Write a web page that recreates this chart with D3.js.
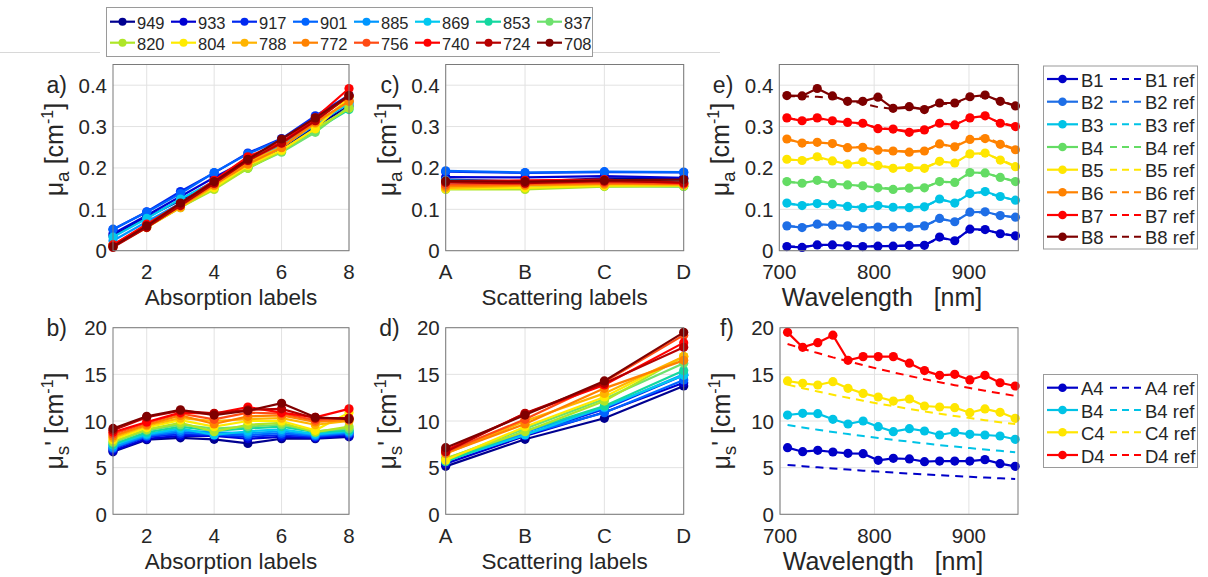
<!DOCTYPE html>
<html>
<head>
<meta charset="utf-8">
<script src="https://cdn.jsdelivr.net/npm/d3@7"></script>
<style>
  body { margin: 0; background: #fff; }
  text { font-family: "Liberation Sans", Arial, sans-serif; fill: #262626; }
</style>
</head>
<body>
<svg id="fig" width="1208" height="577"></svg>
<script>
// wavelengths (nm), plot order follows the legend (949 first, 708 last)
const wavelengths = [708, 724, 740, 756, 772, 788, 804, 820, 837, 853, 869, 885, 901, 917, 933, 949]
const wlColors = ['#800000', '#b80000', '#ff0000', '#ff4b14', '#ff8200', '#ffb400', '#ffeb00', '#aee628',
  '#6ee16e', '#14d7a0', '#00c8f0', '#0096ff', '#0064ff', '#0028f0', '#0000d2', '#000090']

const absLabels = [1, 2, 3, 4, 5, 6, 7, 8]
const scatLabels = ['A', 'B', 'C', 'D']

// e) mu_a of the B phantoms vs wavelength
const muaB1 = [0.010, 0.008, 0.014, 0.014, 0.012, 0.010, 0.011, 0.011, 0.013, 0.013, 0.033, 0.024, 0.052, 0.051, 0.041, 0.036]
const muaB2 = [0.060, 0.056, 0.064, 0.062, 0.060, 0.056, 0.057, 0.057, 0.057, 0.060, 0.078, 0.070, 0.093, 0.094, 0.085, 0.081]
const muaB3 = [0.115, 0.109, 0.114, 0.112, 0.107, 0.104, 0.109, 0.105, 0.104, 0.106, 0.125, 0.115, 0.138, 0.143, 0.131, 0.122]
const muaB4 = [0.167, 0.163, 0.170, 0.162, 0.159, 0.157, 0.152, 0.148, 0.151, 0.152, 0.167, 0.165, 0.189, 0.188, 0.177, 0.167]
const muaB5 = [0.221, 0.218, 0.227, 0.217, 0.209, 0.215, 0.206, 0.199, 0.201, 0.199, 0.216, 0.212, 0.234, 0.236, 0.219, 0.203]
const muaB6 = [0.270, 0.260, 0.262, 0.259, 0.249, 0.250, 0.243, 0.241, 0.238, 0.241, 0.258, 0.251, 0.269, 0.271, 0.257, 0.244]
const muaB7 = [0.321, 0.314, 0.321, 0.314, 0.310, 0.308, 0.295, 0.294, 0.286, 0.292, 0.308, 0.304, 0.321, 0.326, 0.308, 0.300]
const muaB8 = [0.375, 0.374, 0.392, 0.374, 0.361, 0.361, 0.371, 0.344, 0.348, 0.341, 0.357, 0.357, 0.372, 0.376, 0.361, 0.350]

const muaB1Ref = [0.010, 0.010, 0.012, 0.013, 0.012, 0.011, 0.011, 0.012, 0.012, 0.014, 0.030, 0.026, 0.050, 0.050, 0.042, 0.036]
const muaB2Ref = [0.059, 0.058, 0.062, 0.061, 0.059, 0.057, 0.057, 0.057, 0.058, 0.060, 0.076, 0.071, 0.092, 0.093, 0.085, 0.080]
const muaB3Ref = [0.113, 0.111, 0.114, 0.112, 0.108, 0.106, 0.107, 0.105, 0.105, 0.107, 0.123, 0.117, 0.139, 0.141, 0.130, 0.122]
const muaB4Ref = [0.166, 0.164, 0.168, 0.163, 0.159, 0.156, 0.153, 0.150, 0.151, 0.153, 0.167, 0.164, 0.187, 0.188, 0.177, 0.168]
const muaB5Ref = [0.220, 0.219, 0.222, 0.219, 0.212, 0.212, 0.206, 0.201, 0.201, 0.201, 0.215, 0.213, 0.232, 0.235, 0.220, 0.205]
const muaB6Ref = [0.268, 0.263, 0.262, 0.258, 0.251, 0.250, 0.244, 0.241, 0.240, 0.242, 0.256, 0.253, 0.270, 0.275, 0.259, 0.246]
const muaB7Ref = [0.320, 0.316, 0.318, 0.315, 0.310, 0.306, 0.297, 0.293, 0.289, 0.293, 0.306, 0.305, 0.320, 0.325, 0.309, 0.301]
const muaB8Ref = [0.373, 0.373, 0.372, 0.369, 0.362, 0.356, 0.347, 0.343, 0.345, 0.343, 0.354, 0.356, 0.369, 0.374, 0.362, 0.351]

// f) mu_s' of the x4 phantoms vs wavelength
const musA4 = [7.14, 6.71, 6.86, 6.68, 6.54, 6.50, 5.79, 6.00, 5.93, 5.64, 5.71, 5.71, 5.71, 5.86, 5.43, 5.14]
const musB4 = [10.64, 10.82, 10.79, 10.18, 9.68, 10.0, 9.39, 8.86, 9.18, 8.93, 8.50, 8.79, 8.57, 8.50, 8.39, 8.04]
const musC4 = [14.29, 14.04, 13.86, 14.21, 13.50, 12.96, 12.57, 12.14, 12.36, 11.61, 11.50, 11.43, 10.89, 11.29, 10.93, 10.29]
const musD4 = [19.5, 17.9, 18.4, 19.2, 16.5, 16.9, 16.9, 16.9, 16.2, 15.4, 14.9, 15.0, 14.4, 14.9, 14.1, 13.75]

const musA4Ref = [5.29, 5.16, 5.03, 4.91, 4.79, 4.68, 4.58, 4.47, 4.37, 4.28, 4.19, 4.10, 4.02, 3.94, 3.86, 3.79]
const musB4Ref = [9.57, 9.31, 9.06, 8.82, 8.60, 8.38, 8.17, 7.98, 7.78, 7.60, 7.42, 7.26, 7.10, 6.95, 6.80, 6.64]
const musC4Ref = [13.9, 13.52, 13.16, 12.81, 12.49, 12.17, 11.87, 11.59, 11.29, 11.03, 10.78, 10.54, 10.31, 10.09, 9.87, 9.67]
const musD4Ref = [18.25, 17.75, 17.28, 16.82, 16.40, 15.98, 15.59, 15.21, 14.83, 14.48, 14.16, 13.84, 13.54, 13.25, 12.96, 12.69]

// b) mu_s' per absorption label (one value per wavelength)
const musAbs1 = [9.2, 9.0, 8.8, 8.6, 8.4, 8.2, 8.0, 7.8, 7.7, 7.5, 7.4, 7.2, 7.1, 7.0, 6.8, 6.7]
const musAbs2 = [10.5, 10.4, 9.9, 9.8, 9.6, 9.5, 9.3, 9.1, 9.0, 8.8, 8.6, 8.5, 8.4, 8.3, 8.1, 8.0]
const musAbs3 = [11.2, 11.1, 10.9, 10.8, 10.6, 10.3, 10.1, 9.8, 9.6, 9.4, 9.2, 9.0, 8.8, 8.6, 8.4, 8.2]
const musAbs4 = musB4
const musAbs5 = [11.1, 11.2, 11.5, 10.9, 10.5, 10.2, 10.0, 9.6, 9.4, 9.2, 8.9, 8.7, 8.5, 8.3, 8.1, 7.6]
const musAbs6 = [11.9, 11.3, 10.9, 10.8, 10.6, 10.3, 10.0, 9.8, 9.6, 9.4, 9.1, 8.9, 8.7, 8.5, 8.3, 8.1]
const musAbs7 = [10.4, 10.3, 10.4, 10.1, 9.9, 9.6, 9.0, 8.8, 8.9, 8.8, 8.6, 8.5, 8.4, 8.3, 8.2, 8.1]
const musAbs8 = [10.2, 10.3, 11.3, 10.3, 10.1, 10.0, 10.9, 9.4, 9.2, 9.0, 8.9, 8.8, 8.7, 8.6, 8.4, 8.3]

// c) mu_a per scattering label (one value per wavelength)
const muaScatA = [0.168, 0.165, 0.168, 0.160, 0.156, 0.152, 0.150, 0.148, 0.152, 0.155, 0.170, 0.168, 0.193, 0.191, 0.178, 0.172]
const muaScatB = muaB4
const muaScatC = [0.170, 0.168, 0.172, 0.165, 0.162, 0.160, 0.157, 0.155, 0.156, 0.157, 0.170, 0.168, 0.191, 0.190, 0.180, 0.175]
const muaScatD = [0.172, 0.165, 0.163, 0.162, 0.160, 0.160, 0.158, 0.156, 0.155, 0.156, 0.168, 0.166, 0.190, 0.189, 0.176, 0.175]

const bNames = ['B1', 'B2', 'B3', 'B4', 'B5', 'B6', 'B7', 'B8']
const bColors = ['#0000c8', '#1e6ee6', '#00c3e6', '#64dc64', '#ffe600', '#ff8200', '#ff0000', '#7d0000']
const bSeries = [muaB1, muaB2, muaB3, muaB4, muaB5, muaB6, muaB7, muaB8]
const bRefs = [muaB1Ref, muaB2Ref, muaB3Ref, muaB4Ref, muaB5Ref, muaB6Ref, muaB7Ref, muaB8Ref]

const fNames = ['A4', 'B4', 'C4', 'D4']
const fColors = ['#0000c8', '#00c3e6', '#ffe600', '#ff0000']
const fSeries = [musA4, musB4, musC4, musD4]
const fRefs = [musA4Ref, musB4Ref, musC4Ref, musD4Ref]

const absMus = [musAbs1, musAbs2, musAbs3, musAbs4, musAbs5, musAbs6, musAbs7, musAbs8]
const scatMua = [muaScatA, muaScatB, muaScatC, muaScatD]

const svg = d3.select('#fig')
const gridColor = '#e2e2e2'
const boxColor = '#7a7a7a'

// faint page rules left over from the figure crop
svg.append('line').attr('x1', 0).attr('x2', 100).attr('y1', 52.5).attr('y2', 52.5).attr('stroke', '#d8d8d8')
svg.append('line').attr('x1', 593).attr('x2', 720).attr('y1', 52.5).attr('y2', 52.5).attr('stroke', '#d8d8d8')

function yLabel (g, x, y, sub, prime) {
  const t = g.append('text')
    .attr('transform', `translate(${x},${y}) rotate(-90)`)
    .attr('text-anchor', 'middle')
    .attr('font-size', 25)
  t.append('tspan').text('\u03bc')
  t.append('tspan').attr('font-size', 19).attr('dy', 6).text(sub)
  if (prime) {
    t.append('tspan').attr('dy', -6).text("'")
    t.append('tspan').text(' [cm')
  } else {
    t.append('tspan').attr('dy', -6).text(' [cm')
  }
  t.append('tspan').attr('font-size', 16).attr('dy', -10).text('-1')
  t.append('tspan').attr('dy', 10).text(']')
}

function panel (o) {
  const g = svg.append('g')
  const x = d3.scaleLinear(o.xDomain, [o.x0, o.x1])
  const y = d3.scaleLinear(o.yDomain, [o.y1, o.y0])

  g.selectAll('.vgrid').data(o.xTicks).enter().append('line')
    .attr('x1', d => x(d)).attr('x2', d => x(d))
    .attr('y1', o.y0).attr('y2', o.y1)
    .attr('stroke', gridColor)
  g.selectAll('.hgrid').data(o.yTicks).enter().append('line')
    .attr('x1', o.x0).attr('x2', o.x1)
    .attr('y1', d => y(d)).attr('y2', d => y(d))
    .attr('stroke', gridColor)

  o.series.forEach(s => {
    const line = d3.line().x(d => x(d[0])).y(d => y(d[1]))
    g.append('path')
      .datum(s.points)
      .attr('fill', 'none')
      .attr('stroke', s.color)
      .attr('stroke-width', s.dashed ? 2 : 2.2)
      .attr('stroke-dasharray', s.dashed ? '8,6' : null)
      .attr('d', line)
    if (!s.dashed) {
      g.selectAll(null).data(s.points).enter().append('circle')
        .attr('cx', d => x(d[0])).attr('cy', d => y(d[1]))
        .attr('r', 4.6)
        .attr('fill', s.color)
    }
  })

  g.append('rect')
    .attr('x', o.x0).attr('y', o.y0)
    .attr('width', o.x1 - o.x0).attr('height', o.y1 - o.y0)
    .attr('fill', 'none').attr('stroke', boxColor)

  g.selectAll('.xt').data(o.xTicks).enter().append('text')
    .attr('x', d => x(d)).attr('y', o.y1 + 21)
    .attr('text-anchor', 'middle').attr('dominant-baseline', 'central')
    .attr('font-size', 20.5)
    .text(o.xFormat || (d => d))
  g.selectAll('.yt').data(o.yTicks).enter().append('text')
    .attr('x', o.x0 - 6).attr('y', d => y(d))
    .attr('text-anchor', 'end').attr('dominant-baseline', 'central')
    .attr('font-size', 20.5)
    .text(o.yFormat || (d => d))

  g.append('text')
    .attr('x', o.x0 - 46).attr('y', y(o.yTicks[o.yTicks.length - 1]))
    .attr('text-anchor', 'end').attr('dominant-baseline', 'central')
    .attr('font-size', 23)
    .text(o.letter)

  g.append('text')
    .attr('x', o.xLabelX || (o.x0 + o.x1) / 2).attr('y', o.y1 + (o.xLabelDy || 47))
    .attr('text-anchor', 'middle').attr('dominant-baseline', 'central')
    .attr('font-size', o.xLabelSize || 22.5)
    .text(o.xLabel)

  yLabel(g, o.x0 - 50, (o.y0 + o.y1) / 2 + (o.prime ? 0 : -8), o.sub, o.prime)
}

const order = d3.range(wavelengths.length).reverse()
const muaTicks = [0, 0.1, 0.2, 0.3, 0.4]
const musTicks = [0, 5, 10, 15, 20]
const topRow = { y0: 64.5, y1: 250.7 }
const botRow = { y0: 327.7, y1: 514.3 }
const wlLabel = 'Wavelength\u00a0\u00a0\u00a0[nm]'

// a) mu_a vs absorption labels
panel({
  ...topRow, x0: 113, x1: 349, xDomain: [1, 8], yDomain: [0, 0.45],
  xTicks: [2, 4, 6, 8], yTicks: muaTicks, letter: 'a)', sub: 'a', prime: false,
  xLabel: 'Absorption labels',
  series: order.map(i => ({ color: wlColors[i], points: absLabels.map((l, k) => [l, bSeries[k][i]]) }))
})

// b) mu_s' vs absorption labels
panel({
  ...botRow, x0: 113, x1: 349, xDomain: [1, 8], yDomain: [0, 20],
  xTicks: [2, 4, 6, 8], yTicks: musTicks, letter: 'b)', sub: 's', prime: true,
  xLabel: 'Absorption labels',
  series: order.map(i => ({ color: wlColors[i], points: absLabels.map((l, k) => [l, absMus[k][i]]) }))
})

// c) mu_a vs scattering labels
panel({
  ...topRow, x0: 445.7, x1: 683.7, xDomain: [1, 4], yDomain: [0, 0.45],
  xTicks: [1, 2, 3, 4], xFormat: d => scatLabels[d - 1], yTicks: muaTicks, letter: 'c)', sub: 'a', prime: false,
  xLabel: 'Scattering labels',
  series: order.map(i => ({ color: wlColors[i], points: scatLabels.map((l, k) => [k + 1, scatMua[k][i]]) }))
})

// d) mu_s' vs scattering labels
panel({
  ...botRow, x0: 445.7, x1: 683.7, xDomain: [1, 4], yDomain: [0, 20],
  xTicks: [1, 2, 3, 4], xFormat: d => scatLabels[d - 1], yTicks: musTicks, letter: 'd)', sub: 's', prime: true,
  xLabel: 'Scattering labels',
  series: order.map(i => ({ color: wlColors[i], points: scatLabels.map((l, k) => [k + 1, fSeries[k][i]]) }))
})

// e) mu_a spectra of B1..B8
panel({
  ...topRow, x0: 779.3, x1: 1018.3, xDomain: [700, 952], yDomain: [0, 0.45],
  xTicks: [700, 800, 900], yTicks: muaTicks, letter: 'e)', sub: 'a', prime: false,
  xLabel: wlLabel, xLabelX: 882, xLabelDy: 46.5, xLabelSize: 25,
  series: bSeries.flatMap((s, k) => [
    { color: bColors[k], points: wavelengths.map((w, i) => [w, s[i]]) },
    { color: bColors[k], dashed: true, points: wavelengths.map((w, i) => [w, bRefs[k][i]]) }
  ])
})

// f) mu_s' spectra of A4..D4
panel({
  ...botRow, x0: 780, x1: 1018, xDomain: [700, 952], yDomain: [0, 20],
  xTicks: [700, 800, 900], yTicks: musTicks, letter: 'f)', sub: 's', prime: true,
  xLabel: wlLabel, xLabelX: 883, xLabelDy: 46.5, xLabelSize: 25,
  series: fSeries.flatMap((s, k) => [
    { color: fColors[k], points: wavelengths.map((w, i) => [w, s[i]]) },
    { color: fColors[k], dashed: true, points: wavelengths.map((w, i) => [w, fRefs[k][i]]) }
  ])
})

// top legend: 16 wavelengths in two rows
const legTop = svg.append('g')
legTop.append('rect').attr('x', 106.5).attr('y', 7.5).attr('width', 486).attr('height', 49)
  .attr('fill', '#fff').attr('stroke', '#9a9a9a')
order.forEach((i, n) => {
  const lx = 110 + (n % 8) * 61
  const ly = n < 8 ? 21.7 : 42.7
  legTop.append('line').attr('x1', lx).attr('x2', lx + 25).attr('y1', ly).attr('y2', ly)
    .attr('stroke', wlColors[i]).attr('stroke-width', 2.2)
  legTop.append('circle').attr('cx', lx + 12.5).attr('cy', ly).attr('r', 4).attr('fill', wlColors[i])
  legTop.append('text').attr('x', lx + 27).attr('y', ly + 1)
    .attr('dominant-baseline', 'central').attr('font-size', 16.5)
    .text(wavelengths[i])
})

function sideLegend (y0, y1, rowY, names, colors) {
  const g = svg.append('g')
  g.append('rect').attr('x', 1043.5).attr('y', y0).attr('width', 154).attr('height', y1 - y0)
    .attr('fill', '#fff').attr('stroke', '#9a9a9a')
  names.forEach((name, k) => {
    const ly = rowY[k]
    g.append('line').attr('x1', 1047).attr('x2', 1078).attr('y1', ly).attr('y2', ly)
      .attr('stroke', colors[k]).attr('stroke-width', 2.2)
    g.append('circle').attr('cx', 1062.5).attr('cy', ly).attr('r', 4.3).attr('fill', colors[k])
    g.append('text').attr('x', 1081).attr('y', ly + 1)
      .attr('dominant-baseline', 'central').attr('font-size', 18.5).text(name)
    g.append('line').attr('x1', 1110).attr('x2', 1142).attr('y1', ly).attr('y2', ly)
      .attr('stroke', colors[k]).attr('stroke-width', 2).attr('stroke-dasharray', '7,5')
    g.append('text').attr('x', 1145).attr('y', ly + 1)
      .attr('dominant-baseline', 'central').attr('font-size', 18.5).text(name + ' ref')
  })
}

sideLegend(66, 249, [79, 101.7, 124.3, 147, 169.7, 192.3, 215, 236.7], bNames, bColors)
sideLegend(374.5, 467.5, [387.7, 410, 432.3, 455], fNames, fColors)
</script>
</body>
</html>
